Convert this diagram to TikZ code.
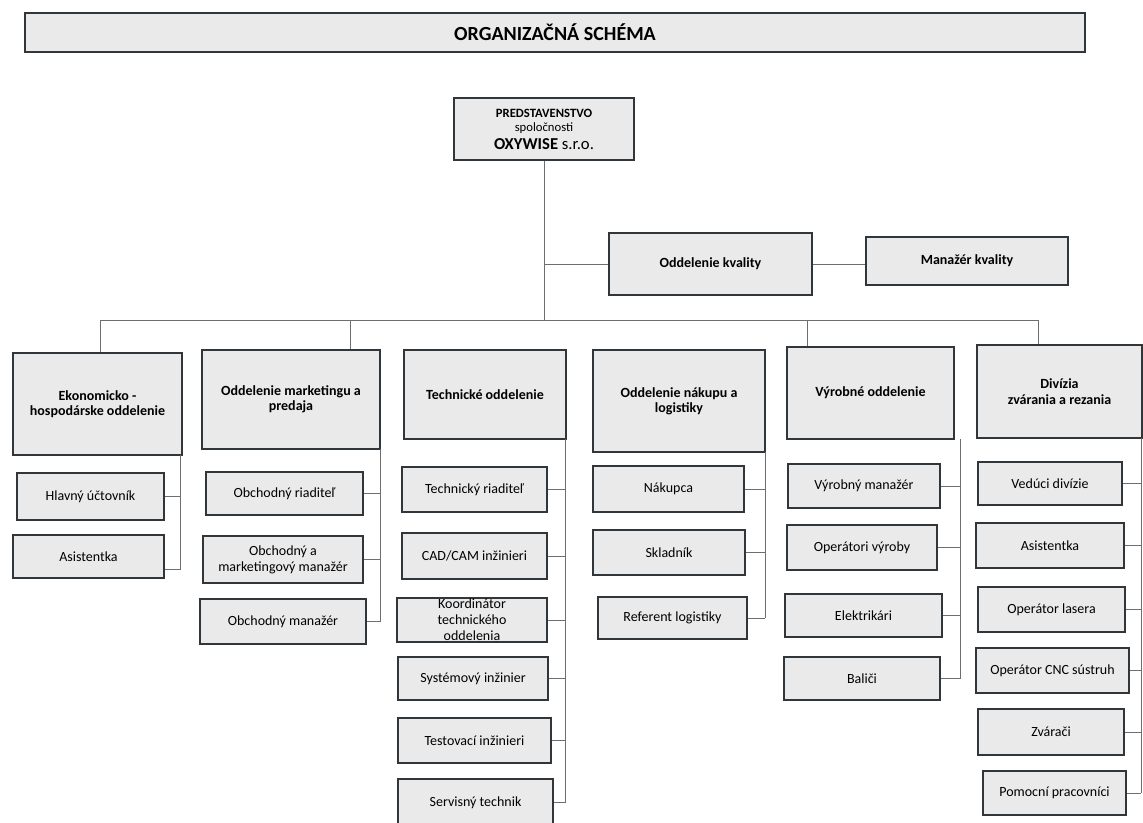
\documentclass[tikz,border=0pt]{standalone}
\usepackage{fontspec}
\setmainfont{Carlito}
\definecolor{boxfill}{RGB}{234,234,234}
\definecolor{boxline}{RGB}{48,54,58}
\definecolor{connline}{RGB}{110,110,110}
\newcommand{\obox}[7]{%
  \node[#1, minimum width={(#5-#3)*0.75pt}, minimum height={(#6-#4)*0.75pt}]
    (#2) at ({(#3+#5)/2},{(#4+#6)/2}) {#7};}
\begin{document}
\begin{tikzpicture}[x=0.75pt,y=-0.75pt,
  box/.style={draw=boxline, fill=boxfill, line width=1.3pt, inner sep=0pt, align=center},
  hdr/.style={box, font=\bfseries\fontsize{10.5}{11.5}\selectfont},
  sub/.style={box, font=\fontsize{10.5}{12}\selectfont},
  conn/.style={draw=connline, line width=0.7pt}]
\clip (0,0) rectangle (1143,822);
\fill[white] (0,0) rectangle (1143,822);

% title and top
\obox{box, font=\bfseries\fontsize{15}{17}\selectfont}{title}{25}{13}{1085}{52}{ORGANIZAČNÁ SCHÉMA}
\obox{box}{top}{454}{98}{634}{160}{{\bfseries\fontsize{9.5}{10}\selectfont PREDSTAVENSTVO}\\[-1pt]{\fontsize{9.5}{10}\selectfont spoločnosti}\\[1pt]{\fontsize{12.5}{13}\selectfont\bfseries OXYWISE \mdseries s.r.o.}}
\obox{hdr}{kval}{609}{233}{812}{295}{Oddelenie kvality}
\obox{hdr}{mkval}{866}{237}{1068}{285}{Manažér kvality}

% department headers
\obox{hdr}{eko}{13}{353}{182}{455}{Ekonomicko -\\hospodárske oddelenie}
\obox{hdr}{mark}{202}{350}{380}{449}{Oddelenie marketingu a\\predaja}
\obox{hdr}{tech}{404}{350}{566}{439}{Technické oddelenie}
\obox{hdr}{nak}{593}{350}{765}{452}{Oddelenie nákupu a\\logistiky}
\obox{hdr}{vyr}{787}{347}{954}{439}{Výrobné oddelenie}
\obox{hdr}{div}{977}{345}{1142}{438}{Divízia\\zvárania a rezania}

% sub boxes
\obox{sub}{hlav}{17}{473}{164}{520}{Hlavný účtovník}
\obox{sub}{asis1}{13}{535}{164}{578}{Asistentka}

\obox{sub}{ored}{206}{472}{363}{515}{Obchodný riaditeľ}
\obox{sub}{omm}{203}{536}{363}{583}{Obchodný a\\marketingový manažér}
\obox{sub}{oman}{200}{599}{366}{644}{Obchodný manažér}

\obox{sub}{tr}{402}{467}{547}{512}{Technický riaditeľ}
\obox{sub}{cad}{402}{533}{547}{579}{CAD/CAM inžinieri}
\obox{sub}{koord}{397}{598}{547}{642}{Koordinátor\\technického\\oddelenia}
\obox{sub}{sys}{398}{657}{548}{700}{Systémový inžinier}
\obox{sub}{test}{398}{718}{551}{763}{Testovací inžinieri}
\obox{sub}{serv}{398}{779}{553}{826}{Servisný technik}

\obox{sub}{nakup}{593}{466}{744}{512}{Nákupca}
\obox{sub}{sklad}{593}{530}{745}{575}{Skladník}
\obox{sub}{ref}{598}{597}{747}{639}{Referent logistiky}

\obox{sub}{vm}{788}{464}{940}{508}{Výrobný manažér}
\obox{sub}{ov}{787}{525}{937}{570}{Operátori výroby}
\obox{sub}{elek}{785}{594}{942}{637}{Elektrikári}
\obox{sub}{bal}{784}{657}{940}{700}{Baliči}

\obox{sub}{ved}{978}{462}{1122}{505}{Vedúci divízie}
\obox{sub}{asis2}{976}{523}{1124}{568}{Asistentka}
\obox{sub}{olas}{978}{587}{1125}{632}{Operátor lasera}
\obox{sub}{ocnc}{976}{648}{1129}{693}{Operátor CNC sústruh}
\obox{sub}{zvar}{978}{709}{1124}{755}{Zvárači}
\obox{sub}{pom}{983}{771}{1126}{815}{Pomocní pracovníci}

% top connectors
\coordinate (d1) at (100,320);
\coordinate (d2) at (350,320);
\coordinate (d3) at (807,320);
\coordinate (d4) at (1038,320);
\draw[conn] (top.south) -- (top.south |- d1);
\draw[conn] (top.south |- kval.west) -- (kval.west);
\draw[conn] (kval.east) -- (kval.east -| mkval.west);
\draw[conn] (d1) -- (d4);
\draw[conn] (d1) -- (d1 |- eko.north);
\draw[conn] (d2) -- (d2 |- mark.north);
\draw[conn] (d3) -- (d3 |- vyr.north);
\draw[conn] (d4) -- (d4 |- div.north);

% column spines
\coordinate (s1) at (180,455);
\coordinate (s2) at (380,449);
\coordinate (s3) at (565,439);
\coordinate (s4) at (765,452);
\coordinate (s5) at (960,439);
\coordinate (s6) at (1141,438);

\draw[conn] (s1) -- ([yshift=-9.75pt]s1 |- asis1.east);
\draw[conn] (hlav.east) -- (hlav.east -| s1);
\draw[conn] ([yshift=-9.75pt]asis1.east) -- ([yshift=-9.75pt]asis1.east -| s1);

\draw[conn] (s2) -- (s2 |- oman.east);
\foreach \n in {ored,omm,oman} \draw[conn] (\n.east) -- (\n.east -| s2);

\draw[conn] (s3) -- (s3 |- serv.east);
\foreach \n in {tr,cad,koord,sys,test,serv} \draw[conn] (\n.east) -- (\n.east -| s3);

\draw[conn] (s4) -- (s4 |- ref.east);
\foreach \n in {nakup,sklad,ref} \draw[conn] (\n.east) -- (\n.east -| s4);

\draw[conn] (s5) -- (s5 |- bal.east);
\foreach \n in {vm,ov,elek,bal} \draw[conn] (\n.east) -- (\n.east -| s5);

\draw[conn] (s6) -- (s6 |- pom.east);
\foreach \n in {ved,asis2,olas,ocnc,zvar,pom} \draw[conn] (\n.east) -- (\n.east -| s6);
\end{tikzpicture}
\end{document}
